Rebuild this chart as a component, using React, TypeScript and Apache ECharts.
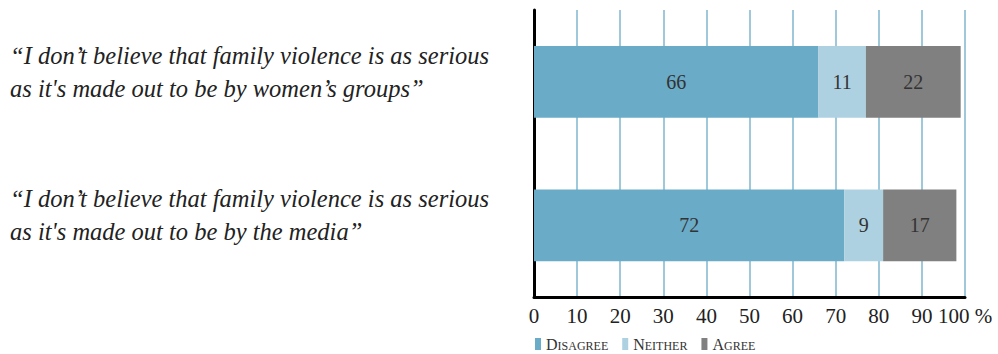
import React, { useEffect, useRef } from "react";
import * as echarts from "echarts";

const categories = [
  "“I don’t believe that family violence is as serious\nas it's made out to be by women’s groups”",
  "“I don’t believe that family violence is as serious\nas it's made out to be by the media”",
];
const seriesNames = ["Disagree", "Neither", "Agree"];
const disagree = [66, 72];
const neither = [11, 9];
const agree = [22, 17];
const colors = ["#6aabc8", "#aed1e2", "#808080"];
const FONT = "Liberation Serif";

export default function App() {
  const ref = useRef<HTMLDivElement>(null);
  useEffect(() => {
    if (!ref.current) return;
    const chart = echarts.init(ref.current, undefined, { renderer: "svg" });
    const data = [disagree, neither, agree];
    chart.setOption({
      animation: false,
      grid: { left: 534, right: 33, top: 10, bottom: 57, containLabel: false },
      legend: {
        left: 530,
        top: 331,
        itemWidth: 6,
        itemHeight: 12,
        itemGap: 14,
        icon: "rect",
        data: seriesNames,
        formatter: (name: string) => `{a|${name[0].toUpperCase()}}{b|${name.slice(1).toUpperCase()}}`,
        textStyle: {
          fontFamily: FONT,
          color: "#333",
          rich: {
            a: { fontFamily: FONT, fontSize: 16, color: "#333", verticalAlign: "bottom" },
            b: { fontFamily: FONT, fontSize: 12, color: "#333", verticalAlign: "bottom" },
          },
        },
      },
      xAxis: {
        type: "value",
        min: 0,
        max: 100,
        interval: 10,
        axisLine: { show: true, onZero: false, lineStyle: { color: "#000", width: 3 } },
        axisTick: { show: false },
        splitLine: { show: true, lineStyle: { color: "#7fb6cf", width: 1.5 } },
        axisLabel: {
          fontFamily: FONT,
          fontSize: 21,
          color: "#222",
          margin: 8,
          formatter: (v: number) => (v === 100 ? "100 %" : String(v)),
        },
      },
      yAxis: {
        type: "category",
        inverse: true,
        data: categories,
        axisLine: { show: true, lineStyle: { color: "#000", width: 3 } },
        axisTick: { show: false },
        axisLabel: {
          align: "left",
          margin: 524,
          padding: [0, 0, 20, 0],
          formatter: (v: string) =>
            v
              .split("\n")
              .map((l) => `{q|${l}}`)
              .join("\n"),
          rich: {
            q: {
              fontFamily: FONT,
              fontStyle: "italic",
              fontSize: 24.5,
              lineHeight: 33,
              color: "#222",
            },
          },
        },
      },
      series: seriesNames.map((n, i) => ({
        name: n,
        type: "bar",
        stack: "total",
        barWidth: "50%",
        data: data[i],
        itemStyle: { color: colors[i] },
        label: {
          show: true,
          position: "inside",
          fontFamily: FONT,
          fontSize: 20,
          color: "#333",
        },
      })),
    });
    return () => chart.dispose();
  }, []);
  return <div ref={ref} style={{ width: 998, height: 354, position: "absolute", left: 0, top: 0 }} />;
}
